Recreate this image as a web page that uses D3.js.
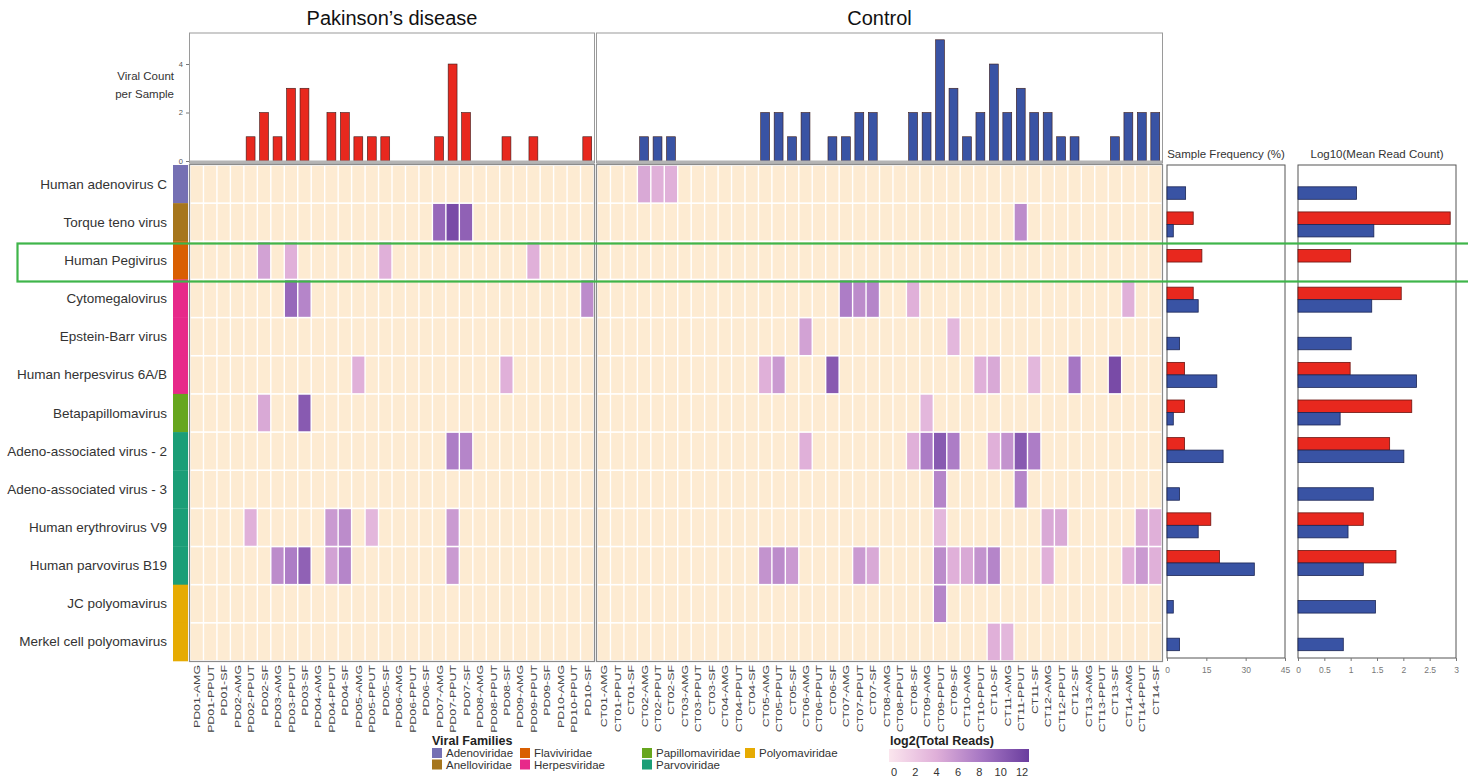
<!DOCTYPE html>
<html>
<head>
<meta charset="utf-8">
<script src="https://cdn.jsdelivr.net/npm/d3@7"></script>
<style>
  body { margin: 0; background: #fff; }
  svg { font-family: "Liberation Sans", Arial, sans-serif; }
</style>
</head>
<body>
<script>
const width = 1468,
      height = 780;

// ---- data ----
const viruses = ["Human adenovirus C", "Torque teno virus", "Human Pegivirus", "Cytomegalovirus",
  "Epstein-Barr virus", "Human herpesvirus 6A/B", "Betapapillomavirus", "Adeno-associated virus - 2",
  "Adeno-associated virus - 3", "Human erythrovirus V9", "Human parvovirus B19", "JC polyomavirus",
  "Merkel cell polyomavirus"];
const virusFamily = ["Adenoviridae", "Anelloviridae", "Flaviviridae", "Herpesviridae", "Herpesviridae",
  "Herpesviridae", "Papillomaviridae", "Parvoviridae", "Parvoviridae", "Parvoviridae", "Parvoviridae",
  "Polyomaviridae", "Polyomaviridae"];
const families = ["Adenoviridae", "Anelloviridae", "Flaviviridae", "Herpesviridae",
  "Papillomaviridae", "Parvoviridae", "Polyomaviridae"];
const familyColors = ["#7570b3", "#a6761d", "#d95f02", "#e7298a", "#66a61e", "#1b9e77", "#e6ab02"];

const pdSamples = ["PD01-AMG", "PD01-PPUT", "PD01-SF", "PD02-AMG", "PD02-PPUT", "PD02-SF",
  "PD03-AMG", "PD03-PPUT", "PD03-SF", "PD04-AMG", "PD04-PPUT", "PD04-SF", "PD05-AMG", "PD05-PPUT",
  "PD05-SF", "PD06-AMG", "PD06-PPUT", "PD06-SF", "PD07-AMG", "PD07-PPUT", "PD07-SF", "PD08-AMG",
  "PD08-PPUT", "PD08-SF", "PD09-AMG", "PD09-PPUT", "PD09-SF", "PD10-AMG", "PD10-PPUT", "PD10-SF"];
const ctSamples = ["CT01-AMG", "CT01-PPUT", "CT01-SF", "CT02-AMG", "CT02-PPUT", "CT02-SF",
  "CT03-AMG", "CT03-PPUT", "CT03-SF", "CT04-AMG", "CT04-PPUT", "CT04-SF", "CT05-AMG", "CT05-PPUT",
  "CT05-SF", "CT06-AMG", "CT06-PPUT", "CT06-SF", "CT07-AMG", "CT07-PPUT", "CT07-SF", "CT08-AMG",
  "CT08-PPUT", "CT08-SF", "CT09-AMG", "CT09-PPUT", "CT09-SF", "CT10-AMG", "CT10-PPUT", "CT10-SF",
  "CT11-AMG", "CT11-PPUT", "CT11-SF", "CT12-AMG", "CT12-PPUT", "CT12-SF", "CT13-AMG", "CT13-PPUT",
  "CT13-SF", "CT14-AMG", "CT14-PPUT", "CT14-SF"];

// viral count per sample (top bars)
const pdCounts = [0, 0, 0, 0, 1, 2, 1, 3, 3, 0, 2, 2, 1, 1, 1, 0, 0, 0, 1, 4, 2, 0, 0, 1, 0, 1, 0, 0, 0, 1];
const ctCounts = [0, 0, 0, 1, 1, 1, 0, 0, 0, 0, 0, 0, 2, 2, 1, 2, 0, 1, 1, 2, 2, 0, 0, 2, 2, 5, 3, 1,
  2, 4, 2, 3, 2, 2, 1, 1, 0, 0, 1, 2, 2, 2];

// log2(total reads) of detected cells: [virus, sample, value]
const pdReads = [
  ["Torque teno virus", "PD07-AMG", 9], ["Torque teno virus", "PD07-PPUT", 11], ["Torque teno virus", "PD07-SF", 9.5],
  ["Human Pegivirus", "PD02-SF", 5], ["Human Pegivirus", "PD03-PPUT", 4], ["Human Pegivirus", "PD05-SF", 4],
  ["Human Pegivirus", "PD09-PPUT", 4],
  ["Cytomegalovirus", "PD03-PPUT", 9], ["Cytomegalovirus", "PD03-SF", 7], ["Cytomegalovirus", "PD10-SF", 6.5],
  ["Human herpesvirus 6A/B", "PD05-AMG", 4], ["Human herpesvirus 6A/B", "PD08-SF", 4],
  ["Betapapillomavirus", "PD02-SF", 4.5], ["Betapapillomavirus", "PD03-SF", 10],
  ["Adeno-associated virus - 2", "PD07-PPUT", 7.5], ["Adeno-associated virus - 2", "PD07-SF", 7],
  ["Human erythrovirus V9", "PD02-PPUT", 4], ["Human erythrovirus V9", "PD04-PPUT", 5.5],
  ["Human erythrovirus V9", "PD04-SF", 6.5], ["Human erythrovirus V9", "PD05-PPUT", 3.5],
  ["Human erythrovirus V9", "PD07-PPUT", 5.5],
  ["Human parvovirus B19", "PD03-AMG", 6.5], ["Human parvovirus B19", "PD03-PPUT", 7.5],
  ["Human parvovirus B19", "PD03-SF", 9.5], ["Human parvovirus B19", "PD04-PPUT", 5],
  ["Human parvovirus B19", "PD04-SF", 7], ["Human parvovirus B19", "PD07-PPUT", 5.5]
];
const ctReads = [
  ["Human adenovirus C", "CT02-AMG", 4.5], ["Human adenovirus C", "CT02-PPUT", 4], ["Human adenovirus C", "CT02-SF", 4],
  ["Torque teno virus", "CT11-PPUT", 6.5],
  ["Cytomegalovirus", "CT07-AMG", 7.5], ["Cytomegalovirus", "CT07-PPUT", 6.5], ["Cytomegalovirus", "CT07-SF", 7],
  ["Cytomegalovirus", "CT08-SF", 4], ["Cytomegalovirus", "CT14-AMG", 4],
  ["Epstein-Barr virus", "CT06-AMG", 5], ["Epstein-Barr virus", "CT09-SF", 3.5],
  ["Human herpesvirus 6A/B", "CT05-AMG", 4], ["Human herpesvirus 6A/B", "CT05-PPUT", 5.5],
  ["Human herpesvirus 6A/B", "CT06-SF", 10], ["Human herpesvirus 6A/B", "CT10-PPUT", 4],
  ["Human herpesvirus 6A/B", "CT10-SF", 4.5], ["Human herpesvirus 6A/B", "CT11-SF", 3.5],
  ["Human herpesvirus 6A/B", "CT12-SF", 8], ["Human herpesvirus 6A/B", "CT13-SF", 11],
  ["Betapapillomavirus", "CT09-AMG", 3.5],
  ["Adeno-associated virus - 2", "CT06-AMG", 4], ["Adeno-associated virus - 2", "CT08-SF", 4],
  ["Adeno-associated virus - 2", "CT09-AMG", 7.5], ["Adeno-associated virus - 2", "CT09-PPUT", 10],
  ["Adeno-associated virus - 2", "CT09-SF", 7.5], ["Adeno-associated virus - 2", "CT10-SF", 4],
  ["Adeno-associated virus - 2", "CT11-AMG", 6], ["Adeno-associated virus - 2", "CT11-PPUT", 10],
  ["Adeno-associated virus - 2", "CT11-SF", 7.5],
  ["Adeno-associated virus - 3", "CT09-PPUT", 7], ["Adeno-associated virus - 3", "CT11-PPUT", 7],
  ["Human erythrovirus V9", "CT09-PPUT", 3.5], ["Human erythrovirus V9", "CT12-AMG", 4.5],
  ["Human erythrovirus V9", "CT12-PPUT", 4.5], ["Human erythrovirus V9", "CT14-PPUT", 4.5],
  ["Human erythrovirus V9", "CT14-SF", 4],
  ["Human parvovirus B19", "CT05-AMG", 6], ["Human parvovirus B19", "CT05-PPUT", 6.5],
  ["Human parvovirus B19", "CT05-SF", 5.5], ["Human parvovirus B19", "CT07-PPUT", 5.5],
  ["Human parvovirus B19", "CT07-SF", 4.5], ["Human parvovirus B19", "CT09-PPUT", 6.5],
  ["Human parvovirus B19", "CT09-SF", 4], ["Human parvovirus B19", "CT10-AMG", 4.5],
  ["Human parvovirus B19", "CT10-PPUT", 6], ["Human parvovirus B19", "CT10-SF", 7],
  ["Human parvovirus B19", "CT12-AMG", 4], ["Human parvovirus B19", "CT14-AMG", 4],
  ["Human parvovirus B19", "CT14-PPUT", 5.5], ["Human parvovirus B19", "CT14-SF", 4],
  ["JC polyomavirus", "CT09-PPUT", 7],
  ["Merkel cell polyomavirus", "CT10-SF", 4], ["Merkel cell polyomavirus", "CT11-AMG", 3.5]
];

// right-hand summaries (one value per virus)
const pdFreq = [0, 10, 13.3, 10, 0, 6.7, 6.7, 6.7, 0, 16.7, 20, 0, 0];
const ctFreq = [7.1, 2.4, 0, 11.9, 4.8, 19.0, 2.4, 21.4, 4.8, 11.9, 33.3, 2.4, 4.8];
const pdLogMean = [0, 2.89, 1.0, 1.96, 0, 0.99, 2.16, 1.74, 0, 1.24, 1.86, 0, 0];
const ctLogMean = [1.11, 1.44, 0, 1.40, 1.01, 2.25, 0.80, 2.01, 1.43, 0.95, 1.24, 1.47, 0.86];

const countTicks = [0, 2, 4];
const freqTicks = [0, 15, 30, 45];
const logTicks = [0, 0.5, 1, 1.5, 2, 2.5, 3];
const readTicks = [0, 2, 4, 6, 8, 10, 12];

const red = "#e8281e", blue = "#3953a4";

const svg = d3.select("body")
    .append("svg")
    .attr("width", width)
    .attr("height", height);

const y = d3.scaleBand()
    .domain(viruses)
    .range([165, 661]);

const color = d3.scaleLinear()
    .domain([0, 4, 8, 12])
    .range(["#fbe6ee", "#e0b0d9", "#a676c3", "#6a3d9e"]);

const famColor = d3.scaleOrdinal()
    .domain(families)
    .range(familyColors);

const yTop = d3.scaleLinear()
    .domain([0, 5.28])
    .range([161, 33]);

const panels = [
  {title: "Pakinson\u2019s disease", samples: pdSamples, counts: pdCounts, reads: pdReads, fill: red, range: [190, 594]},
  {title: "Control", samples: ctSamples, counts: ctCounts, reads: ctReads, fill: blue, range: [597, 1162]}
];

panels.forEach(p => {
  const x = d3.scaleBand().domain(p.samples).range(p.range);
  const lookup = new Map(p.reads.map(d => [d[0] + "|" + d[1], d[2]]));
  const [x0, x1] = p.range;

  // title
  svg.append("text")
      .attr("x", (x0 + x1) / 2)
      .attr("y", 25)
      .attr("text-anchor", "middle")
      .attr("font-size", 20)
      .attr("fill", "#111")
      .text(p.title);

  // top bar panel
  svg.append("rect")
      .attr("x", x0 - 0.5).attr("y", 33)
      .attr("width", x1 - x0 + 1).attr("height", 130)
      .attr("fill", "#fff")
      .attr("stroke", "#9a9a9a");

  const bx = x.copy().paddingInner(0.34).paddingOuter(0.17);
  svg.append("g")
    .selectAll("rect")
    .data(p.samples.map((s, i) => ({s, c: p.counts[i]})).filter(d => d.c > 0))
    .enter().append("rect")
      .attr("x", d => bx(d.s))
      .attr("y", d => yTop(d.c))
      .attr("width", bx.bandwidth())
      .attr("height", d => yTop(0) - yTop(d.c))
      .attr("fill", p.fill)
      .attr("stroke", "#3a1a18")
      .attr("stroke-width", 0.6);

  svg.append("rect")
      .attr("x", x0).attr("y", 160.5)
      .attr("width", x1 - x0).attr("height", 3.5)
      .attr("fill", "#b4b4b4");

  // heatmap
  svg.append("rect")
      .attr("x", x0).attr("y", y.range()[0])
      .attr("width", x1 - x0).attr("height", y.range()[1] - y.range()[0])
      .attr("fill", "#fff");

  const cells = [];
  viruses.forEach(v => p.samples.forEach(s => cells.push({v, s, val: lookup.get(v + "|" + s)})));

  svg.append("g")
    .selectAll("rect")
    .data(cells)
    .enter().append("rect")
      .attr("x", d => x(d.s) + 0.7)
      .attr("y", d => y(d.v) + 0.8)
      .attr("width", x.bandwidth() - 1.4)
      .attr("height", y.bandwidth() - 1.6)
      .attr("fill", d => d.val === undefined ? "#fdebd2" : color(d.val));

  svg.append("rect")
      .attr("x", x0 - 0.5).attr("y", y.range()[0] - 0.5)
      .attr("width", x1 - x0 + 1).attr("height", y.range()[1] - y.range()[0] + 1)
      .attr("fill", "none")
      .attr("stroke", "#8c8c8c")
      .attr("stroke-width", 1.2);

  // sample labels
  svg.append("g")
    .selectAll("text")
    .data(p.samples)
    .enter().append("text")
      .attr("transform", d => `translate(${x(d) + x.bandwidth() / 2 + 3.5},665) rotate(-90) scale(1.3,1)`)
      .attr("text-anchor", "end")
      .attr("font-size", 9.5)
      .attr("fill", "#444")
      .text(d => d);
});

// y axis of the top bars
const yAxis = svg.append("g")
    .attr("transform", "translate(189,0)")
    .call(d3.axisLeft(yTop).tickValues(countTicks).tickSize(3).tickFormat(d3.format("d")));
yAxis.select(".domain").remove();
yAxis.selectAll("line").attr("stroke", "#777");
yAxis.selectAll("text").attr("font-size", 7.5).attr("fill", "#555");

svg.append("text")
    .attr("text-anchor", "end")
    .attr("font-size", 11.5)
    .attr("fill", "#333")
  .selectAll("tspan")
    .data(["Viral Count", "per Sample"])
    .enter().append("tspan")
      .attr("x", 174)
      .attr("y", (d, i) => 80 + i * 18)
      .text(d => d);

// virus labels and family strip
svg.append("g")
  .selectAll("text")
  .data(viruses)
  .enter().append("text")
    .attr("x", 167)
    .attr("y", d => y(d) + y.bandwidth() / 2 + 4.5)
    .attr("text-anchor", "end")
    .attr("font-size", 13.5)
    .attr("fill", "#333")
    .text(d => d);

svg.append("g")
  .selectAll("rect")
  .data(viruses)
  .enter().append("rect")
    .attr("x", 173)
    .attr("y", d => y(d))
    .attr("width", 15)
    .attr("height", y.bandwidth() + 0.3)
    .attr("fill", (d, i) => famColor(virusFamily[i]));

// right summary panels
const yR = d3.scaleBand()
    .domain(viruses)
    .range([168, 657]);
const barH = 12.5;

const summaries = [
  {title: "Sample Frequency (%)", pd: pdFreq, ct: ctFreq, ticks: freqTicks,
   x: d3.scaleLinear().domain([0, 45]).range([1167, 1285])},
  {title: "Log10(Mean Read Count)", pd: pdLogMean, ct: ctLogMean, ticks: logTicks,
   x: d3.scaleLinear().domain([0, 3]).range([1298, 1456])}
];

summaries.forEach(s => {
  const [r0, r1] = s.x.range();
  svg.append("rect")
      .attr("x", r0).attr("y", 165)
      .attr("width", r1 - r0).attr("height", 493)
      .attr("fill", "#fff")
      .attr("stroke", "#555");

  svg.append("text")
      .attr("x", (r0 + r1) / 2)
      .attr("y", 158)
      .attr("text-anchor", "middle")
      .attr("font-size", 11.5)
      .attr("fill", "#333")
      .text(s.title);

  const bars = [];
  viruses.forEach((v, i) => {
    if (s.pd[i] > 0) bars.push({v, val: s.pd[i], off: -barH, fill: red, stroke: "#6b1410"});
    if (s.ct[i] > 0) bars.push({v, val: s.ct[i], off: 0, fill: blue, stroke: "#1b2554"});
  });

  svg.append("g")
    .selectAll("rect")
    .data(bars)
    .enter().append("rect")
      .attr("x", r0)
      .attr("y", d => yR(d.v) + yR.bandwidth() / 2 + d.off)
      .attr("width", d => s.x(d.val) - r0)
      .attr("height", barH)
      .attr("fill", d => d.fill)
      .attr("stroke", d => d.stroke)
      .attr("stroke-width", 0.8);

  const ax = svg.append("g")
      .attr("transform", "translate(0,658)")
      .call(d3.axisBottom(s.x).tickValues(s.ticks).tickSize(3).tickFormat(d3.format("")));
  ax.select(".domain").remove();
  ax.selectAll("line").attr("stroke", "#777");
  ax.selectAll("text").attr("font-size", 8.5).attr("fill", "#777").attr("dy", "1.05em");
});

// highlight box around Human Pegivirus
svg.append("rect")
    .attr("x", 17.5)
    .attr("y", 243.5)
    .attr("width", 1470)
    .attr("height", 38)
    .attr("fill", "none")
    .attr("stroke", "#3fb54a")
    .attr("stroke-width", 2.2);

// family legend
const legend = svg.append("g");
legend.append("text")
    .attr("x", 432).attr("y", 745)
    .attr("font-size", 12.5)
    .attr("font-weight", "bold")
    .attr("fill", "#222")
    .text("Viral Families");

const legCols = [432, 520, 642, 745];
const item = legend.selectAll("g.item")
    .data(families)
    .enter().append("g")
    .attr("class", "item")
    .attr("transform", (d, i) => `translate(${legCols[Math.floor(i / 2)]},${748 + (i % 2) * 11.5})`);
item.append("rect")
    .attr("width", 10).attr("height", 10)
    .attr("fill", d => famColor(d));
item.append("text")
    .attr("x", 14).attr("y", 9)
    .attr("font-size", 11.5)
    .attr("fill", "#333")
    .text(d => d);

// colour legend
const readScale = d3.scaleLinear().domain([0, 12]).range([894, 1022]);
const defs = svg.append("defs");
const grad = defs.append("linearGradient").attr("id", "readGrad");
grad.selectAll("stop")
    .data(readTicks)
    .enter().append("stop")
    .attr("offset", d => d / 12)
    .attr("stop-color", d => color(d));

svg.append("text")
    .attr("x", 890).attr("y", 745)
    .attr("font-size", 12.5)
    .attr("font-weight", "bold")
    .attr("fill", "#222")
    .text("log2(Total Reads)");

svg.append("rect")
    .attr("x", 889).attr("y", 749)
    .attr("width", 140).attr("height", 13)
    .attr("fill", "url(#readGrad)");

svg.append("g")
  .selectAll("text")
  .data(readTicks)
  .enter().append("text")
    .attr("x", d => readScale(d))
    .attr("y", 776)
    .attr("text-anchor", "middle")
    .attr("font-size", 11)
    .attr("fill", "#333")
    .text(d => d);
</script>
</body>
</html>
